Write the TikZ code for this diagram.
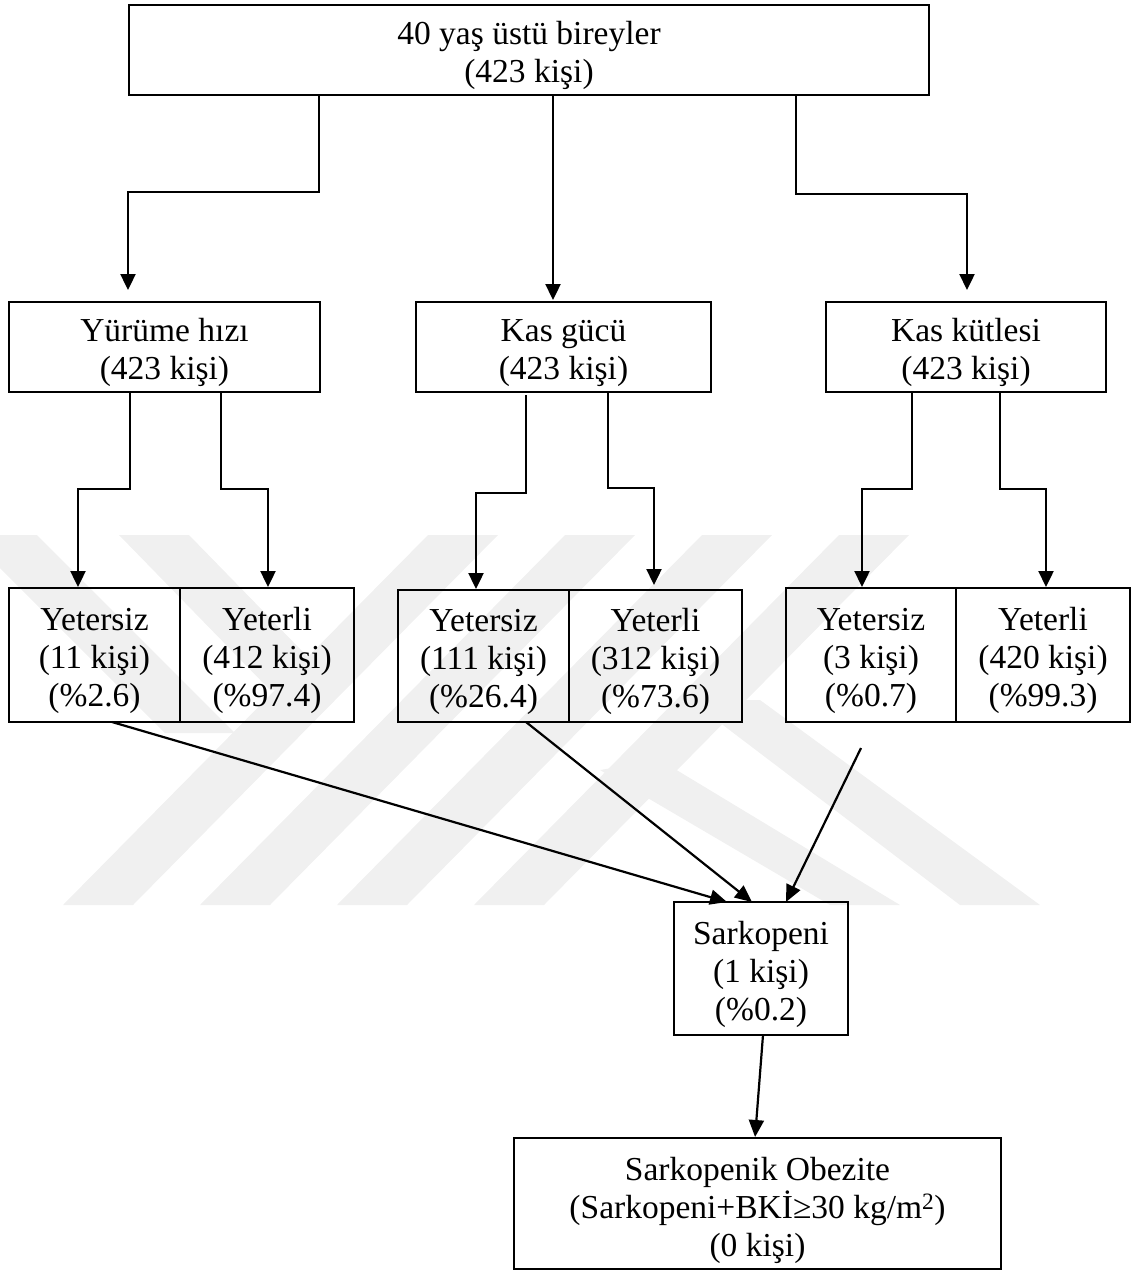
\documentclass[tikz,border=0pt]{standalone}
\usepackage{fontspec}
\setmainfont{Liberation Serif}
\usetikzlibrary{arrows.meta}
\definecolor{wm}{RGB}{240,240,240}
\newcommand{\lowstrut}{\rule{0pt}{35pt}}
\tikzset{
  box/.style={draw, line width=2.4pt, anchor=north west, inner sep=0pt, outer sep=0pt,
    align=center, font=\fontsize{33.5}{38}\selectfont},
  half/.style={draw, line width=1.4pt, anchor=north west, inner sep=0pt, outer sep=0pt,
    align=center, font=\fontsize{33.5}{38}\selectfont},
  outer/.style={line width=2.4pt},
  conn/.style={line width=2.4pt, -{Triangle[length=16pt,width=15pt]}},
  diag/.style={line width=2.2pt, -{Triangle[length=17pt,width=15pt]}}
}
\begin{document}
\begin{tikzpicture}[x=1pt,y=-1pt]
\useasboundingbox (0,0) rectangle (1133,1273);
% watermark
\begin{scope}
\foreach \k in {0,1,2,3}{
  \fill[wm] ({63+137*\k},905) -- ({133+137*\k},905) -- ({498+137*\k},535) -- ({428+137*\k},535) -- cycle;
}
\fill[wm] (-33,535) -- (37,535) -- (235,733) -- (165,733) -- cycle;
\fill[wm] (119,535) -- (189,535) -- (340,690) -- (270,690) -- cycle;
\fill[wm] (690,700) -- (760,700) -- (1040,905) -- (960,905) -- cycle;
\fill[wm] (600,770) -- (660,760) -- (900,905) -- (830,905) -- cycle;
\end{scope}
% nodes
\node[box, minimum width=800pt, minimum height=90pt] (top) at (129,5) {\lowstrut 40 yaş üstü bireyler\\(423 kişi)};
\node[box, minimum width=311pt, minimum height=90pt] (yur) at (9,302) {\lowstrut Yürüme hızı\\(423 kişi)};
\node[box, minimum width=295pt, minimum height=90pt] (kas) at (416,302) {\lowstrut Kas gücü\\(423 kişi)};
\node[box, minimum width=280pt, minimum height=90pt] (kut) at (826,302) {\lowstrut Kas kütlesi\\(423 kişi)};
\node[half, minimum width=171pt, minimum height=134pt] (YL) at (9,588) {\lowstrut Yetersiz\\(11 kişi)\\(\%2.6)};
\node[half, minimum width=174pt, minimum height=134pt] (YR) at (180,588) {\lowstrut Yeterli\\(412 kişi)\\(\%97.4)};
\node[half, minimum width=171pt, minimum height=132pt] (KL) at (398,590) {\lowstrut Yetersiz\\(111 kişi)\\(\%26.4)};
\node[half, minimum width=173pt, minimum height=132pt] (KR) at (569,590) {\lowstrut Yeterli\\(312 kişi)\\(\%73.6)};
\node[half, minimum width=170pt, minimum height=134pt] (ML) at (786,588) {\lowstrut Yetersiz\\(3 kişi)\\(\%0.7)};
\node[half, minimum width=174pt, minimum height=134pt] (MR) at (956,588) {\lowstrut Yeterli\\(420 kişi)\\(\%99.3)};
\draw[outer] (YL.north west) rectangle (YR.south east);
\draw[outer] (KL.north west) rectangle (KR.south east);
\draw[outer] (ML.north west) rectangle (MR.south east);
\node[box, minimum width=174pt, minimum height=133pt] (sark) at (674,902) {\lowstrut Sarkopeni\\(1 kişi)\\(\%0.2)};
\node[box, minimum width=487pt, minimum height=131pt] (obez) at (514,1138) {\rule{0pt}{37pt}Sarkopenik Obezite\\(Sarkopeni+BKİ≥30 kg/m\textsuperscript{2})\\(0 kişi)};
% connectors top level
\draw[conn, shorten >=12pt] ([xshift=-210pt]top.south) -- ([xshift=-210pt]top.south |- 0,192) -| ([xshift=-36.5pt]yur.north);
\draw[conn, shorten >=2pt] ([xshift=24pt]top.south) -- ([xshift=-10.5pt]kas.north);
\draw[conn, shorten >=12pt] ([xshift=267pt]top.south) -- ([xshift=267pt]top.south |- 0,194) -| ([xshift=1pt]kut.north);
% second level
\draw[conn, shorten >=1pt] ([xshift=-34.5pt]yur.south) -- ([xshift=-34.5pt]yur.south |- 0,489) -| ([xshift=-16.5pt]YL.north);
\draw[conn, shorten >=1pt] ([xshift=56.5pt]yur.south) -- ([xshift=56.5pt]yur.south |- 0,489) -| ([xshift=1pt]YR.north);
\draw[conn, shorten <=3pt, shorten >=1pt] ([xshift=-37.5pt]kas.south) -- ([xshift=-37.5pt]kas.south |- 0,493) -| ([xshift=-7.5pt]KL.north);
\draw[conn, shorten >=5pt] ([xshift=44.5pt]kas.south) -- ([xshift=44.5pt]kas.south |- 0,488) -| ([xshift=-1.5pt]KR.north);
\draw[conn, shorten >=1pt] ([xshift=-54pt]kut.south) -- ([xshift=-54pt]kut.south |- 0,489) -| ([xshift=-9pt]ML.north);
\draw[conn, shorten >=1pt] ([xshift=34pt]kut.south) -- ([xshift=34pt]kut.south |- 0,489) -| ([xshift=3pt]MR.north);
% diagonals
\coordinate (k3) at ([xshift=-10pt,yshift=-26pt]ML.south);
\draw[diag] ([xshift=17.5pt]YL.south) -- ([xshift=-34pt]sark.north);
\draw[diag] ([xshift=42.5pt]KL.south) -- ([xshift=-9pt]sark.north);
\draw[diag] (k3) -- ([xshift=25pt]sark.north);
\draw[diag, shorten >=1pt] ([xshift=2pt]sark.south) -- ([xshift=-2.5pt]obez.north);
\end{tikzpicture}
\end{document}
